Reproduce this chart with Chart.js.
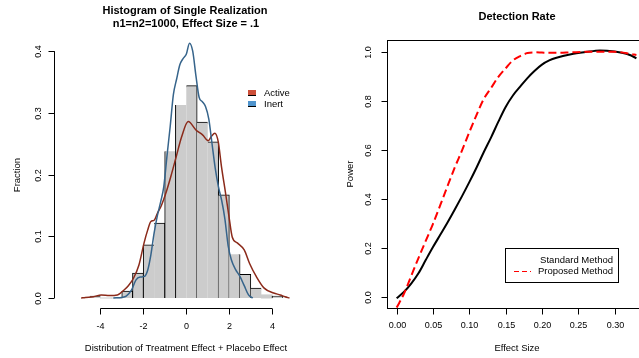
<!DOCTYPE html>
<html>
<head>
<meta charset="utf-8">
<script src="https://cdn.jsdelivr.net/npm/chart.js@4"></script>
<style>
  body { margin: 0; background: #fff; }
  #wrap { position: relative; width: 639px; height: 358px; overflow: hidden; }
  #hist { position: absolute; left: 0; top: 0; }
  #power { position: absolute; left: 320px; top: 0; }
</style>
</head>
<body>
<div id="wrap">
  <canvas id="hist" width="320" height="358"></canvas>
  <canvas id="power" width="330" height="358"></canvas>
</div>
<script>
// ---- histogram data (bins of width 0.5) ----
var binCenters = [-4.25, -3.75, -3.25, -2.75, -2.25, -1.75, -1.25, -0.75, -0.25, 0.25, 0.75, 1.25, 1.75, 2.25, 2.75, 3.25, 3.75, 4.25];
var binFraction = [0.003, 0, 0, 0.011, 0.040, 0.086, 0.121, 0.238, 0.313, 0.344, 0.285, 0.253, 0.167, 0.071, 0.038, 0.016, 0.005, 0.003];
// which sides of each bin get a black edge
var binTop = [1, 0, 0, 1, 1, 1, 1, 0, 0, 1, 1, 1, 1, 0, 1, 1, 0, 1];
var binLeft = [0, 0, 0, 1, 1, 1, 0, 1, 1, 0, 0, 0, 0, 0, 0, 0, 0, 1];
var binRight = [0, 0, 0, 1, 1, 0, 1, 0, 0, 1, 0, 1, 1, 1, 1, 0, 0, 1];

// density curves
var activeX = [-4.9, -4.7, -4.33, -3.96, -3.58, -3.21, -2.9, -2.7, -2.46, -2.21, -1.97, -1.8, -1.65, -1.5, -1.35, -1.16, -0.97, -0.72, -0.47, -0.22, 0.09, 0.46, 0.77, 1.02, 1.17, 1.33, 1.49, 1.64, 1.83, 1.99, 2.14, 2.39, 2.7, 2.95, 3.26, 3.63, 4.07, 4.38, 4.6, 4.81];
var activeY = [0, 0.001, 0.002, 0.005, 0.004, 0.005, 0.013, 0.02, 0.032, 0.053, 0.089, 0.11, 0.124, 0.126, 0.137, 0.15, 0.168, 0.197, 0.229, 0.261, 0.286, 0.272, 0.264, 0.255, 0.262, 0.267, 0.253, 0.213, 0.17, 0.132, 0.099, 0.089, 0.078, 0.056, 0.035, 0.016, 0.008, 0.005, 0.002, 0];
var inertX = [-3.4, -3.0, -2.8, -2.55, -2.35, -2.15, -1.95, -1.8, -1.65, -1.5, -1.35, -1.2, -1.05, -0.9, -0.75, -0.6, -0.45, -0.3, -0.15, 0, 0.15, 0.3, 0.45, 0.6, 0.75, 0.9, 1.05, 1.2, 1.35, 1.5, 1.65, 1.8, 1.95, 2.1, 2.3, 2.5, 2.7, 2.9, 3.1];
var inertY = [0, 0.001, 0.003, 0.013, 0.029, 0.034, 0.035, 0.045, 0.07, 0.105, 0.133, 0.155, 0.18, 0.23, 0.278, 0.33, 0.355, 0.378, 0.388, 0.395, 0.413, 0.4, 0.36, 0.325, 0.318, 0.31, 0.29, 0.25, 0.21, 0.18, 0.158, 0.128, 0.085, 0.062, 0.046, 0.035, 0.02, 0.005, 0];

var histXTicks = [-4, -2, 0, 2, 4];
var histYTicks = [0.0, 0.1, 0.2, 0.3, 0.4];

// ---- power curves ----
var effectSize = [0, 0.01, 0.02, 0.03, 0.04, 0.05, 0.06, 0.07, 0.08, 0.09, 0.10, 0.11, 0.12, 0.13, 0.14, 0.15, 0.16, 0.17, 0.18, 0.19, 0.20, 0.21, 0.22, 0.24, 0.26, 0.28, 0.30, 0.32, 0.33];
var standardPower = [-0.004, 0.022, 0.056, 0.098, 0.152, 0.205, 0.255, 0.305, 0.358, 0.413, 0.47, 0.53, 0.593, 0.653, 0.717, 0.777, 0.824, 0.86, 0.895, 0.925, 0.95, 0.967, 0.978, 0.992, 1.001, 1.008, 1.003, 0.99, 0.976];
var proposedPower = [-0.042, 0.014, 0.087, 0.16, 0.23, 0.30, 0.376, 0.454, 0.53, 0.60, 0.674, 0.745, 0.81, 0.855, 0.90, 0.935, 0.967, 0.985, 0.997, 1.0, 0.999, 0.998, 0.998, 1.0, 1.002, 1.002, 1.002, 0.995, 0.989];

var powerXTicks = [0, 0.05, 0.10, 0.15, 0.20, 0.25, 0.30];
var powerYTicks = [0.0, 0.2, 0.4, 0.6, 0.8, 1.0];

var FONT = '"Liberation Sans", Arial, sans-serif';

function toPoints(xs, ys) {
  var pts = [];
  for (var i = 0; i < xs.length; i++) {
    pts.push({ x: xs[i], y: ys[i] });
  }
  return pts;
}

function text(ctx, str, x, y, size, bold, rot, align) {
  ctx.save();
  ctx.translate(x, y);
  if (rot) ctx.rotate(rot);
  ctx.font = (bold ? 'bold ' : '') + size + 'px ' + FONT;
  ctx.fillStyle = '#000';
  ctx.textAlign = align || 'center';
  ctx.textBaseline = 'middle';
  ctx.fillText(str, 0, 0);
  ctx.restore();
}

function line(ctx, x1, y1, x2, y2) {
  ctx.beginPath();
  ctx.moveTo(x1, y1);
  ctx.lineTo(x2, y2);
  ctx.stroke();
}

// R-style axes for the histogram
var histDecor = {
  id: 'histDecor',
  afterDraw: function (chart) {
    var ctx = chart.ctx;
    var xs = chart.scales.x;
    var ys = chart.scales.y;
    var area = chart.chartArea;
    ctx.save();
    ctx.strokeStyle = '#000';
    ctx.lineWidth = 1;
    var ax = Math.round(area.left) + 0.5;
    line(ctx, ax, ys.getPixelForValue(histYTicks[0]), ax, ys.getPixelForValue(histYTicks[histYTicks.length - 1]));
    histYTicks.forEach(function (v) {
      var py = Math.round(ys.getPixelForValue(v)) + 0.5;
      line(ctx, ax - 6, py, ax, py);
      text(ctx, v.toFixed(1), ax - 16, py, 9, false, -Math.PI / 2);
    });
    var ay = Math.round(area.bottom) + 0.5;
    line(ctx, xs.getPixelForValue(histXTicks[0]), ay, xs.getPixelForValue(histXTicks[histXTicks.length - 1]), ay);
    histXTicks.forEach(function (v) {
      var px = Math.round(xs.getPixelForValue(v)) + 0.5;
      line(ctx, px, ay, px, ay + 6);
      text(ctx, String(v), px, ay + 18, 9);
    });
    text(ctx, 'Histogram of Single Realization', 185, 11, 11, true);
    text(ctx, 'n1=n2=1000, Effect Size = .1', 186, 24, 11, true);
    text(ctx, 'Fraction', 17, 175, 9.5, false, -Math.PI / 2);
    text(ctx, 'Distribution of Treatment Effect + Placebo Effect', 186, 348, 9.5);

    // legend
    ctx.fillStyle = '#CD4F39';
    ctx.fillRect(248, 90, 8, 6);
    ctx.fillStyle = '#4F94CD';
    ctx.fillRect(248, 101, 8, 6);
    line(ctx, 248, 95.5, 256, 95.5);
    line(ctx, 248, 106.5, 256, 106.5);
    text(ctx, 'Active', 264, 93, 9.5, false, 0, 'left');
    text(ctx, 'Inert', 264, 104.5, 9.5, false, 0, 'left');
    ctx.restore();
  }
};

var powerDecor = {
  id: 'powerDecor',
  afterDraw: function (chart) {
    var ctx = chart.ctx;
    var xs = chart.scales.x;
    var ys = chart.scales.y;
    var area = chart.chartArea;
    ctx.save();
    ctx.strokeStyle = '#000';
    ctx.lineWidth = 1;
    var l = Math.round(area.left) + 0.5, t = Math.round(area.top) + 0.5;
    var r = Math.round(area.right) + 0.5, b = Math.round(area.bottom) + 0.5;
    ctx.strokeRect(l, t, r - l, b - t);
    powerYTicks.forEach(function (v) {
      var py = Math.round(ys.getPixelForValue(v)) + 0.5;
      line(ctx, l - 6, py, l, py);
      text(ctx, v.toFixed(1), l - 19, py, 9, false, -Math.PI / 2);
    });
    powerXTicks.forEach(function (v) {
      var px = Math.round(xs.getPixelForValue(v)) + 0.5;
      line(ctx, px, b, px, b + 6);
      text(ctx, v.toFixed(2), px, b + 17, 9);
    });
    text(ctx, 'Detection Rate', 197, 17, 11, true);
    text(ctx, 'Power', 30, 174, 9.5, false, -Math.PI / 2);
    text(ctx, 'Effect Size', 197, 348, 9.5);

    // legend box
    ctx.fillStyle = '#fff';
    ctx.fillRect(185, 248, 113, 34);
    ctx.strokeRect(185.5, 248.5, 113, 34);
    text(ctx, 'Standard Method', 293, 260, 9.5, false, 0, 'right');
    text(ctx, 'Proposed Method', 293, 271.5, 9.5, false, 0, 'right');
    ctx.strokeStyle = '#f00';
    ctx.setLineDash([5, 3]);
    line(ctx, 194, 271.5, 211, 271.5);
    ctx.restore();
  }
};

new Chart(document.getElementById('hist').getContext('2d'), {
  type: 'bar',
  data: {
    datasets: [
      {
        type: 'line',
        label: 'Inert',
        data: toPoints(inertX, inertY),
        borderColor: '#36648B',
        borderWidth: 1.5,
        pointRadius: 0,
        cubicInterpolationMode: 'monotone',
        order: 1
      },
      {
        type: 'line',
        label: 'Active',
        data: toPoints(activeX, activeY),
        borderColor: '#8B2A1A',
        borderWidth: 1.5,
        pointRadius: 0,
        cubicInterpolationMode: 'monotone',
        order: 2
      },
      {
        label: 'Histogram',
        data: toPoints(binCenters, binFraction),
        backgroundColor: '#CCCCCC',
        borderColor: '#000',
        borderSkipped: 'start',
        borderWidth: function (c) {
          var i = c.dataIndex;
          return { top: binTop[i], left: binLeft[i], right: binRight[i], bottom: 0 };
        },
        barPercentage: 1,
        categoryPercentage: 1,
        grouped: false,
        inflateAmount: 0.5,
        order: 3
      }
    ]
  },
  options: {
    responsive: false,
    animation: false,
    devicePixelRatio: 1,
    layout: { padding: { left: 54, top: 33, right: 1, bottom: 50 } },
    plugins: { legend: { display: false }, tooltip: { enabled: false } },
    scales: {
      x: { type: 'linear', min: -4.93, max: 4.95, display: false, ticks: { stepSize: 1 } },
      y: { type: 'linear', min: -0.0162, max: 0.4295, display: false }
    }
  },
  plugins: [histDecor]
});

new Chart(document.getElementById('power').getContext('2d'), {
  type: 'line',
  data: {
    datasets: [
      {
        label: 'Proposed Method',
        data: toPoints(effectSize, proposedPower),
        borderColor: '#ff0000',
        borderWidth: 2,
        borderDash: [8, 4],
        pointRadius: 0,
        cubicInterpolationMode: 'monotone',
        order: 0
      },
      {
        label: 'Standard Method',
        data: toPoints(effectSize, standardPower),
        borderColor: '#000',
        borderWidth: 2,
        pointRadius: 0,
        cubicInterpolationMode: 'monotone',
        order: 1
      }
    ]
  },
  options: {
    responsive: false,
    animation: false,
    devicePixelRatio: 1,
    layout: { padding: { left: 67, top: 40, right: 4, bottom: 50 } },
    plugins: { legend: { display: false }, tooltip: { enabled: false } },
    scales: {
      x: { type: 'linear', min: -0.0133, max: 0.3432, display: false },
      y: { type: 'linear', min: -0.0437, max: 1.0504, display: false }
    }
  },
  plugins: [powerDecor]
});
</script>
</body>
</html>
